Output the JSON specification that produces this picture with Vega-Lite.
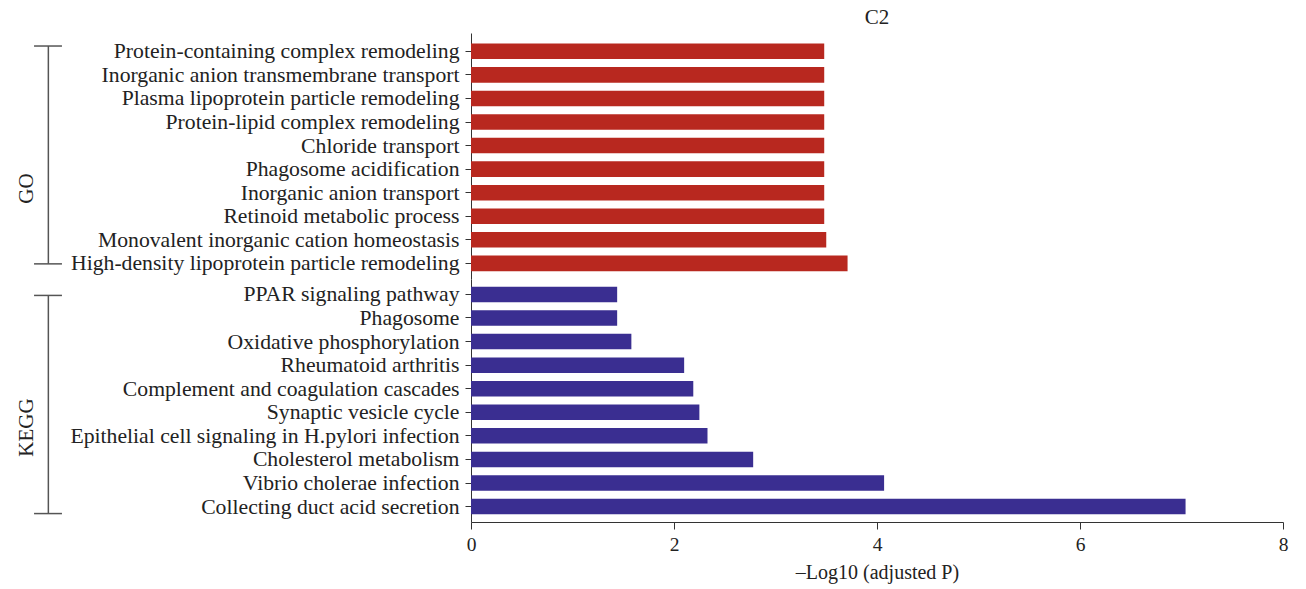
{
  "$schema": "https://vega.github.io/schema/vega-lite/v6.json",
  "padding": {"left": 15, "top": 7, "right": 5, "bottom": 5},
  "background": "white",
  "bounds": "flush",
  "spacing": 0,
  "config": {
    "font": "Liberation Serif",
    "view": {"stroke": null},
    "axis": {
      "domainColor": "#333333",
      "tickColor": "#333333",
      "labelColor": "#222222",
      "titleColor": "#222222",
      "grid": false,
      "labelFont": "Liberation Serif",
      "titleFont": "Liberation Serif",
      "titleFontWeight": "normal"
    }
  },
  "resolve": {"scale": {"x": "independent", "y": "independent"}},
  "datasets": {
    "go": [
      {"term": "Protein-containing complex remodeling", "value": 3.48},
      {"term": "Inorganic anion transmembrane transport", "value": 3.48},
      {"term": "Plasma lipoprotein particle remodeling", "value": 3.48},
      {"term": "Protein-lipid complex remodeling", "value": 3.48},
      {"term": "Chloride transport", "value": 3.48},
      {"term": "Phagosome acidification", "value": 3.48},
      {"term": "Inorganic anion transport", "value": 3.48},
      {"term": "Retinoid metabolic process", "value": 3.48},
      {"term": "Monovalent inorganic cation homeostasis", "value": 3.5},
      {"term": "High-density lipoprotein particle remodeling", "value": 3.71}
    ],
    "kegg": [
      {"term": "PPAR signaling pathway", "value": 1.44},
      {"term": "Phagosome", "value": 1.44},
      {"term": "Oxidative phosphorylation", "value": 1.58},
      {"term": "Rheumatoid arthritis", "value": 2.1},
      {"term": "Complement and coagulation cascades", "value": 2.19},
      {"term": "Synaptic vesicle cycle", "value": 2.25},
      {"term": "Epithelial cell signaling in H.pylori infection", "value": 2.33},
      {"term": "Cholesterol metabolism", "value": 2.78},
      {"term": "Vibrio cholerae infection", "value": 4.07},
      {"term": "Collecting duct acid secretion", "value": 7.04}
    ]
  },
  "vconcat": [
    {
      "width": 812,
      "height": 246,
      "title": {"text": "C2", "frame": "group", "anchor": "middle", "fontSize": 21, "fontWeight": "normal", "font": "Liberation Serif", "color": "#222222", "offset": 5},
      "layer": [
        {
          "data": {"name": "go"},
          "mark": {"type": "bar", "color": "#B8281F"},
          "encoding": {
            "y": {
              "field": "term", "type": "nominal", "sort": null,
              "scale": {
                "domain": ["Protein-containing complex remodeling", "Inorganic anion transmembrane transport", "Plasma lipoprotein particle remodeling", "Protein-lipid complex remodeling", "Chloride transport", "Phagosome acidification", "Inorganic anion transport", "Retinoid metabolic process", "Monovalent inorganic cation homeostasis", "High-density lipoprotein particle remodeling"],
                "paddingInner": 0.341, "paddingOuter": 0.391, "align": 0.573
              },
              "axis": {
                "title": "GO", "titleFontSize": 21, "titleAngle": -90, "titleX": -445, "titleY": 155,
                "titleAlign": "center", "titleBaseline": "middle",
                "labelFontSize": 21.7, "labelLimit": 600, "tickSize": 6, "labelPadding": 6
              }
            },
            "x": {"field": "value", "type": "quantitative", "scale": {"domain": [0, 8], "nice": false}, "axis": null}
          }
        },
        {
          "data": {"values": [{}]},
          "mark": {"type": "rule", "color": "#555555", "strokeWidth": 1.5, "yOffset": -5.3, "y2Offset": 0.5},
          "encoding": {
            "x": {"datum": -4.164},
            "y": {"datum": "Protein-containing complex remodeling"},
            "y2": {"datum": "High-density lipoprotein particle remodeling"}
          }
        },
        {
          "data": {"values": [{}]},
          "mark": {"type": "rule", "color": "#555555", "strokeWidth": 1.5, "yOffset": -5.3},
          "encoding": {
            "x": {"datum": -4.305},
            "x2": {"datum": -4.03},
            "y": {"datum": "Protein-containing complex remodeling"}
          }
        },
        {
          "data": {"values": [{}]},
          "mark": {"type": "rule", "color": "#555555", "strokeWidth": 1.5, "yOffset": 0.5},
          "encoding": {
            "x": {"datum": -4.305},
            "x2": {"datum": -4.03},
            "y": {"datum": "High-density lipoprotein particle remodeling"}
          }
        }
      ]
    },
    {
      "width": 812,
      "height": 243,
      "layer": [
        {
          "data": {"name": "kegg"},
          "mark": {"type": "bar", "color": "#3A2E91"},
          "encoding": {
            "y": {
              "field": "term", "type": "nominal", "sort": null,
              "scale": {
                "domain": ["PPAR signaling pathway", "Phagosome", "Oxidative phosphorylation", "Rheumatoid arthritis", "Complement and coagulation cascades", "Synaptic vesicle cycle", "Epithelial cell signaling in H.pylori infection", "Cholesterol metabolism", "Vibrio cholerae infection", "Collecting duct acid secretion"],
                "paddingInner": 0.341, "paddingOuter": 0.325, "align": 0.5
              },
              "axis": {
                "title": "KEGG", "titleFontSize": 21, "titleAngle": -90, "titleX": -445, "titleY": 148,
                "titleAlign": "center", "titleBaseline": "middle",
                "labelFontSize": 21.7, "labelLimit": 600, "tickSize": 6, "labelPadding": 6
              }
            },
            "x": {
              "field": "value", "type": "quantitative",
              "scale": {"domain": [0, 8], "nice": false},
              "axis": {
                "title": "–Log10 (adjusted P)", "titleFontSize": 20, "titlePadding": 9,
                "values": [0, 2, 4, 6, 8], "format": "d", "labelFontSize": 19.5, "tickSize": 7, "labelPadding": 6,
                "labelFlush": false
              }
            }
          }
        },
        {
          "data": {"values": [{}]},
          "mark": {"type": "rule", "color": "#555555", "strokeWidth": 1.5, "yOffset": 1, "y2Offset": 7},
          "encoding": {
            "x": {"datum": -4.164},
            "y": {"datum": "PPAR signaling pathway"},
            "y2": {"datum": "Collecting duct acid secretion"}
          }
        },
        {
          "data": {"values": [{}]},
          "mark": {"type": "rule", "color": "#555555", "strokeWidth": 1.5, "yOffset": 1},
          "encoding": {
            "x": {"datum": -4.305},
            "x2": {"datum": -4.03},
            "y": {"datum": "PPAR signaling pathway"}
          }
        },
        {
          "data": {"values": [{}]},
          "mark": {"type": "rule", "color": "#555555", "strokeWidth": 1.5, "yOffset": 7},
          "encoding": {
            "x": {"datum": -4.305},
            "x2": {"datum": -4.03},
            "y": {"datum": "Collecting duct acid secretion"}
          }
        }
      ]
    }
  ]
}
